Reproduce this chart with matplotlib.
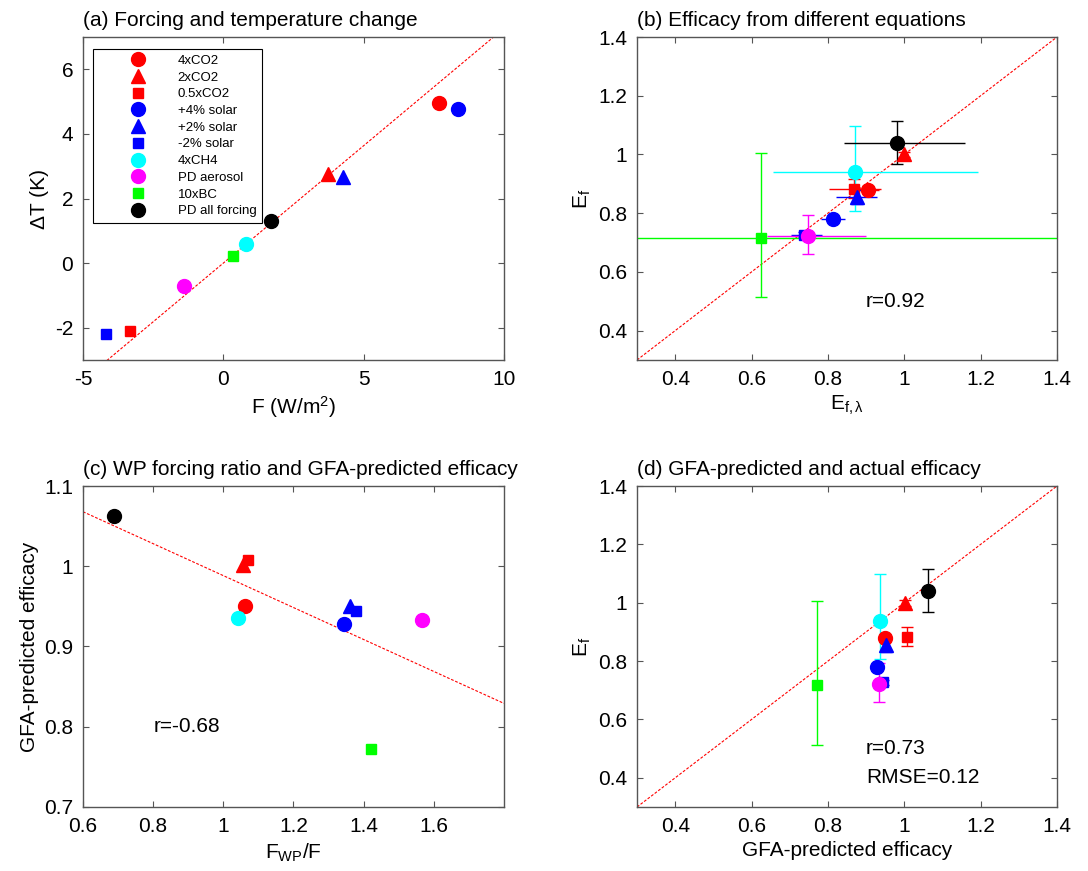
import numpy as np
import matplotlib.pyplot as plt
from matplotlib.ticker import FormatStrFormatter

plt.rcParams['font.family'] = ['Liberation Sans', 'DejaVu Sans']
plt.rcParams['mathtext.fontset'] = 'custom'
plt.rcParams['mathtext.rm'] = 'Liberation Sans'
plt.rcParams['mathtext.it'] = 'Liberation Sans'
plt.rcParams['mathtext.default'] = 'regular'
plt.rcParams['axes.unicode_minus'] = False

# experiments
names = ['4xCO2', '2xCO2', '0.5xCO2', '+4% solar', '+2% solar', '-2% solar',
         '4xCH4', 'PD aerosol', '10xBC', 'PD all forcing']
colors = ['#ff0000', '#ff0000', '#ff0000', '#0000ff', '#0000ff', '#0000ff',
          '#00ffff', '#ff00ff', '#00ff00', '#000000']
markers = ['o', '^', 's', 'o', '^', 's', 'o', 'o', 's', 'o']

# (a) forcing and temperature change
forcing = [7.69, 3.72, -3.31, 8.35, 4.25, -4.18, 0.81, -1.41, 0.35, 1.69]
dT = [4.95, 2.76, -2.10, 4.76, 2.68, -2.19, 0.58, -0.72, 0.21, 1.30]
lam = 0.727  # slope of the dashed line

# efficacy E_f and its range
Ef = [0.880, 1.000, 0.884, 0.781, 0.856, 0.727, 0.939, 0.722, 0.717, 1.039]
Ef_lo = [0.870, 0.990, 0.852, 0.772, 0.830, 0.718, 0.808, 0.660, 0.514, 0.969]
Ef_hi = [0.890, 1.010, 0.916, 0.790, 0.880, 0.736, 1.098, 0.794, 1.005, 1.115]

# E_f,lambda and its range
Efl = [0.905, 1.000, 0.869, 0.814, 0.876, 0.738, 0.871, 0.749, 0.626, 0.981]
Efl_lo = [0.885, 0.990, 0.804, 0.782, 0.821, 0.703, 0.657, 0.640, -0.50, 0.841]
Efl_hi = [0.935, 1.010, 0.939, 0.845, 0.928, 0.785, 1.193, 0.900, 2.000, 1.158]

# (c) WP forcing ratio and GFA-predicted efficacy
fwp_ratio = [1.063, 1.057, 1.069, 1.344, 1.362, 1.378, 1.043, 1.566, 1.421, 0.688]
gfa_eff = [0.950, 1.002, 1.008, 0.928, 0.951, 0.944, 0.936, 0.933, 0.772, 1.063]

msize = {'o': 10, '^': 10, 's': 7.5}
spine_col = '#555555'
fs = 15

fig = plt.figure(figsize=(10.88, 8.71), dpi=100)
ax_a = fig.add_axes([0.0763, 0.5867, 0.3869, 0.3708])
ax_b = fig.add_axes([0.5855, 0.5867, 0.3860, 0.3708])
ax_c = fig.add_axes([0.0763, 0.0735, 0.3869, 0.3685])
ax_d = fig.add_axes([0.5855, 0.0735, 0.3860, 0.3685])


def style(ax):
    for s in ax.spines.values():
        s.set_color(spine_col)
        s.set_linewidth(1.0)
    ax.tick_params(direction='in', top=True, right=True, length=4,
                   color=spine_col, labelsize=fs, pad=7)


def ef_errorbars(ax, xs, xlo=None, xhi=None):
    for i in range(len(names)):
        if xlo is not None:
            ax.errorbar(xs[i], Ef[i], xerr=[[xs[i] - xlo[i]], [xhi[i] - xs[i]]],
                        fmt='none', ecolor=colors[i], elinewidth=1, capsize=0)
        ax.errorbar(xs[i], Ef[i], yerr=[[Ef[i] - Ef_lo[i]], [Ef_hi[i] - Ef[i]]],
                    fmt='none', ecolor=colors[i], elinewidth=1, capsize=4.5)


def points(ax, xs, ys):
    hs = []
    for i in range(len(names)):
        h, = ax.plot(xs[i], ys[i], linestyle='none', marker=markers[i],
                     ms=msize[markers[i]], color=colors[i], mec=colors[i],
                     label=names[i], zorder=5)
        hs.append(h)
    return hs


dash = (0, (2.5, 1.5))

# (a)
style(ax_a)
fx = np.array([-5.0, 10.0])
ax_a.plot(fx, lam * fx, color='r', lw=0.8, linestyle=dash)
hs = points(ax_a, forcing, dT)
ax_a.set_xlim(-5, 10)
ax_a.set_ylim(-3, 7)
ax_a.set_xticks([-5, 0, 5, 10])
ax_a.set_yticks([-2, 0, 2, 4, 6])
ax_a.set_xlabel('F (W/m$^{2}$)', fontsize=fs)
ax_a.set_ylabel('ΔT (K)', fontsize=fs)
ax_a.set_title('(a) Forcing and temperature change', loc='left', fontsize=fs, pad=8)
leg = ax_a.legend(handles=hs, loc='upper left', bbox_to_anchor=(0.0245, 0.962),
                  borderaxespad=0, fontsize=9.5, handlelength=6, handletextpad=0,
                  borderpad=0.4, labelspacing=0.34, fancybox=False, framealpha=1,
                  edgecolor='k', numpoints=1)
leg.get_frame().set_linewidth(0.8)

# (b)
style(ax_b)
one = np.array([0.3, 1.4])
ax_b.plot(one, one, color='r', lw=0.8, linestyle=dash)
ef_errorbars(ax_b, Efl, Efl_lo, Efl_hi)
points(ax_b, Efl, Ef)
ax_b.set_xlim(0.3, 1.4)
ax_b.set_ylim(0.3, 1.4)
ax_b.set_xticks(np.arange(0.4, 1.41, 0.2))
ax_b.set_yticks(np.arange(0.4, 1.41, 0.2))
ax_b.xaxis.set_major_formatter(FormatStrFormatter('%g'))
ax_b.yaxis.set_major_formatter(FormatStrFormatter('%g'))
ax_b.set_xlabel('E$_{f,λ}$', fontsize=fs)
ax_b.set_ylabel('E$_{f}$', fontsize=fs)
ax_b.set_title('(b) Efficacy from different equations', loc='left', fontsize=fs, pad=8)
ax_b.text(0.9, 0.5, 'r=0.92', fontsize=fs, va='center')

# (c)
style(ax_c)
p = np.polyfit(fwp_ratio, gfa_eff, 1)
cx = np.array([0.6, 1.8])
ax_c.plot(cx, np.polyval(p, cx), color='r', lw=0.8, linestyle=dash)
points(ax_c, fwp_ratio, gfa_eff)
ax_c.set_xlim(0.6, 1.8)
ax_c.set_ylim(0.7, 1.1)
ax_c.set_xticks([0.6, 0.8, 1.0, 1.2, 1.4, 1.6])
ax_c.set_yticks([0.7, 0.8, 0.9, 1.0, 1.1])
ax_c.xaxis.set_major_formatter(FormatStrFormatter('%g'))
ax_c.yaxis.set_major_formatter(FormatStrFormatter('%g'))
ax_c.set_xlabel('F$_{WP}$/F', fontsize=fs)
ax_c.set_ylabel('GFA-predicted efficacy', fontsize=fs)
ax_c.set_title('(c) WP forcing ratio and GFA-predicted efficacy', loc='left', fontsize=fs, pad=8)
ax_c.text(0.8, 0.8, 'r=-0.68', fontsize=fs, va='center')

# (d)
style(ax_d)
ax_d.plot(one, one, color='r', lw=0.8, linestyle=dash)
ef_errorbars(ax_d, gfa_eff)
points(ax_d, gfa_eff, Ef)
ax_d.set_xlim(0.3, 1.4)
ax_d.set_ylim(0.3, 1.4)
ax_d.set_xticks(np.arange(0.4, 1.41, 0.2))
ax_d.set_yticks(np.arange(0.4, 1.41, 0.2))
ax_d.xaxis.set_major_formatter(FormatStrFormatter('%g'))
ax_d.yaxis.set_major_formatter(FormatStrFormatter('%g'))
ax_d.set_xlabel('GFA-predicted efficacy', fontsize=fs)
ax_d.set_ylabel('E$_{f}$', fontsize=fs)
ax_d.set_title('(d) GFA-predicted and actual efficacy', loc='left', fontsize=fs, pad=8)
ax_d.text(0.9, 0.5, 'r=0.73', fontsize=fs, va='center')
ax_d.text(0.9, 0.4, 'RMSE=0.12', fontsize=fs, va='center')

plt.savefig('out.png', dpi=100)
